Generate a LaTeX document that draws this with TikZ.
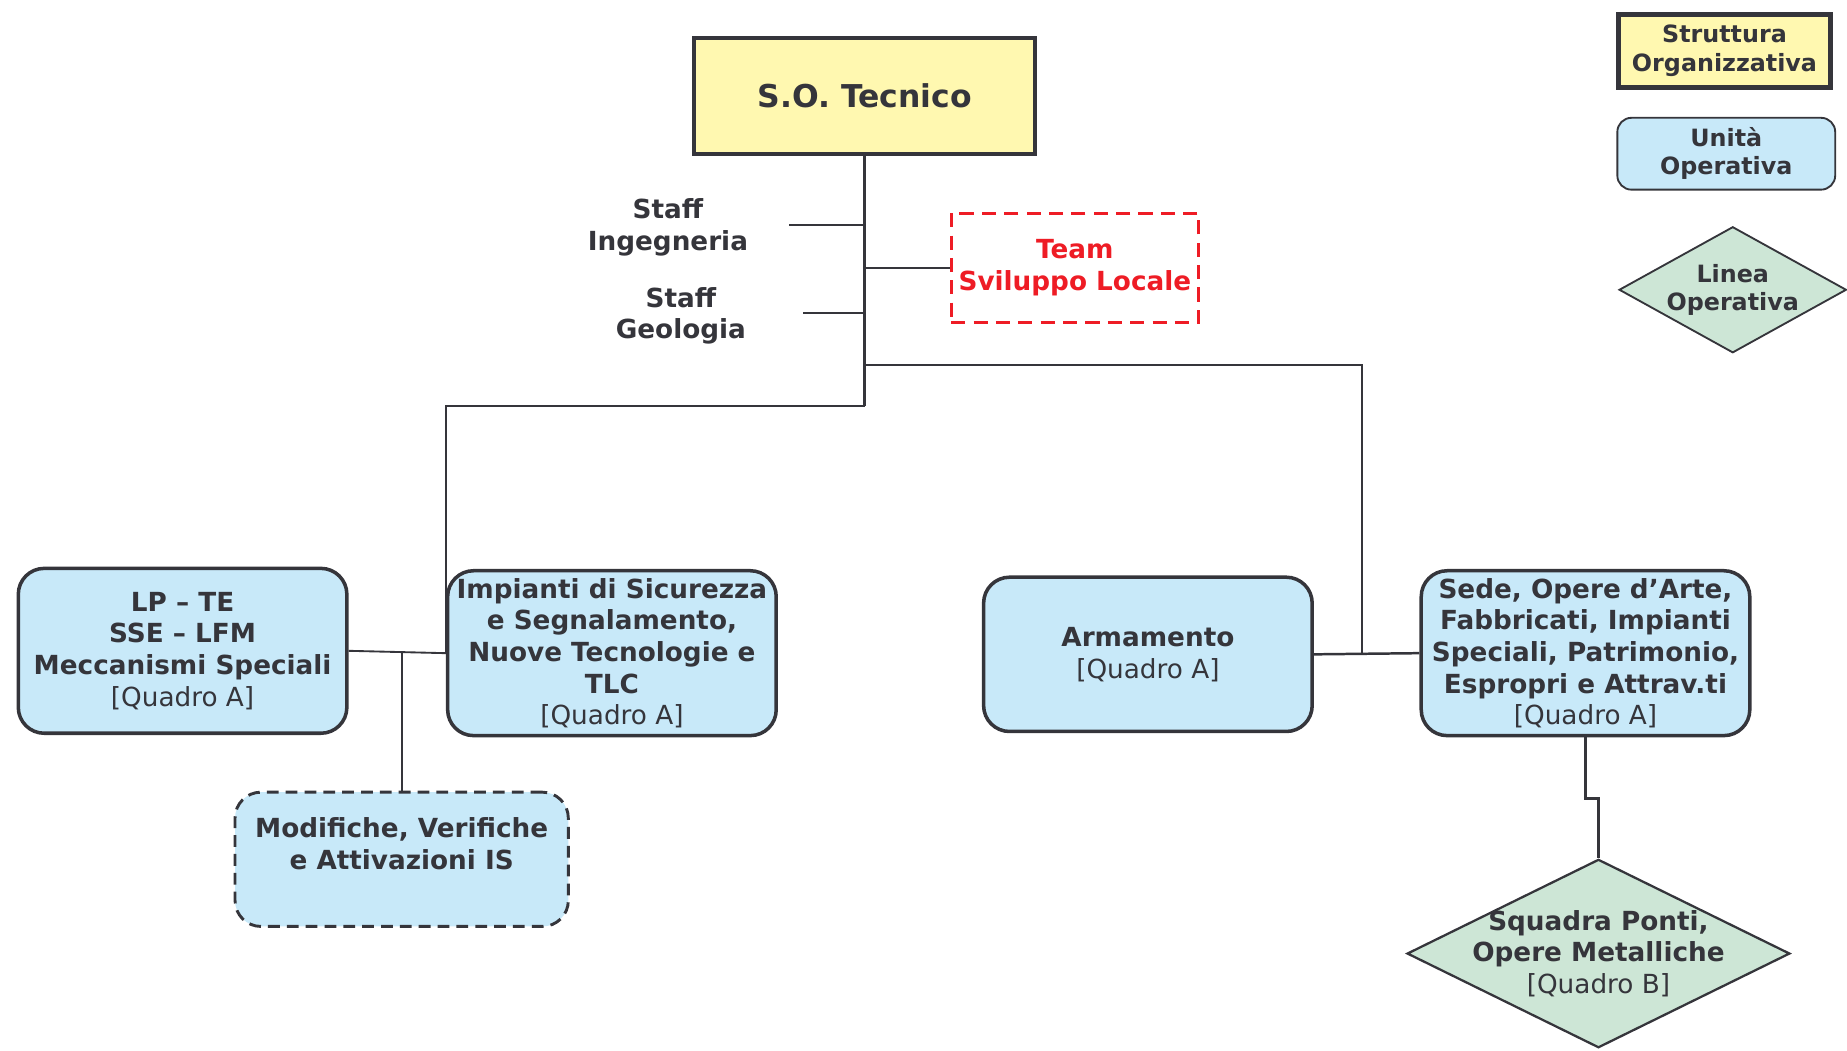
\documentclass[tikz,border=0pt]{standalone}
\usepackage{fontspec}
\setmainfont{DejaVu Sans}
\usetikzlibrary{shapes.geometric}
\definecolor{scuro}{HTML}{35353B}
\definecolor{giallo}{HTML}{FFF8B0}
\definecolor{azzurro}{HTML}{C8E9F9}
\definecolor{verde}{HTML}{CDE6D6}
\definecolor{rosso}{HTML}{EE1C25}
\newcommand{\quadro}[1]{{\mdseries [Quadro #1]}}

\begin{document}
\begin{tikzpicture}[x=0.02cm,y=-0.02cm,line width=0.9pt,color=scuro,
  testo/.style={font=\fontsize{12.7}{15.3}\selectfont\bfseries,align=center},
  legenda/.style={font=\fontsize{11.5}{13.7}\selectfont\bfseries,align=center},
  struttura/.style={rectangle,draw=scuro,line width=1.9pt,fill=giallo,inner sep=1pt},
  unita/.style={testo,rectangle,rounded corners=0.44cm,draw=scuro,line width=1.7pt,fill=azzurro,inner sep=1pt,minimum width=5.58cm,minimum height=2.8cm},
  linea/.style={diamond,draw=scuro,line width=1.1pt,fill=verde,inner sep=0pt}]

  \useasboundingbox (0,0) rectangle (1568,892);

  \node[struttura,testo,font=\fontsize{15.2}{18}\selectfont\bfseries,minimum width=5.8cm,minimum height=1.98cm] (tecnico) at (734,81.5) {S.O. Tecnico};
  \node[testo] (ingegneria) at (567,193) {Staff\\Ingegneria};
  \node[testo] (geologia) at (578,268) {Staff\\Geologia};
  \node[testo,rectangle,draw=rosso,text=rosso,line width=1.6pt,dash pattern=on 0.24cm off 0.14cm,inner sep=2pt,minimum width=4.2cm,minimum height=1.86cm] (team) at (912.5,227.5) {Team\\Sviluppo Locale};

  \node[unita] (lp) at (155,552.5) {LP – TE\\SSE – LFM\\Meccanismi Speciali\\\quadro{A}};
  \node[unita] (impianti) at (519.5,554.5) {Impianti di Sicurezza\\e Segnalamento,\\Nuove Tecnologie e\\TLC\\\quadro{A}};
  \node[unita,minimum height=2.62cm] (armamento) at (974.5,555.5) {Armamento\\\quadro{A}};
  \node[unita] (sede) at (1346,554.5) {Sede, Opere d’Arte,\\Fabbricati, Impianti\\Speciali, Patrimonio,\\Espropri e Attrav.ti\\\quadro{A}};
  \node[unita,line width=1.4pt,dash pattern=on 0.2cm off 0.12cm,minimum width=5.66cm,minimum height=2.28cm] (modifiche) at (341,729.5) {Modifiche, Verifiche\\e Attivazioni IS\\\mbox{}};
  \node[linea,minimum width=6.5cm,minimum height=3.2cm,label={[testo]center:{Squadra Ponti,\\Opere Metalliche\\\quadro{B}}}] (squadra) at (1357,809.5) {};

  \node[struttura,legenda,line width=2.3pt,minimum width=3.6cm,minimum height=1.24cm] (leg1) at (1464,43) {Struttura\\Organizzativa};
  \node[legenda,rectangle,rounded corners=0.24cm,draw=scuro,fill=azzurro,line width=0.9pt,minimum width=3.7cm,minimum height=1.22cm] (leg2) at (1465.5,130.5) {Unità\\Operativa};
  \node[linea,line width=0.9pt,minimum width=3.86cm,minimum height=2.14cm,label={[legenda]center:{Linea\\Operativa}}] (leg3) at (1471,246) {};

  \coordinate (tronco) at (734,345);
  \coordinate (ramo) at (1156,310);
  \coordinate (ing) at (670,191);
  \coordinate (geo) at (682,266);

  \draw[line width=1.3pt] (tecnico.south) -- (tronco);
  \draw (tronco) -| (impianti.west);
  \draw[line width=1.1pt] (ing) -- (ing -| tronco);
  \draw[line width=1.1pt] (geo) -- (geo -| tronco);
  \draw[line width=1.1pt] (tecnico.south |- team.west) -- (team.west);
  \draw (tecnico.south |- ramo) -- (ramo) -- (ramo |- sede.west);
  \draw[line width=1.2pt] (armamento.east) -- (sede.west);
  \draw (lp.east) -- (impianti.west);
  \draw[line width=1.1pt] (modifiche.north) -- (modifiche.north |- lp.east);
  \draw[line width=1.1pt] (sede.south) -- ++(0,52) -| (squadra.north);

\end{tikzpicture}
\end{document}
